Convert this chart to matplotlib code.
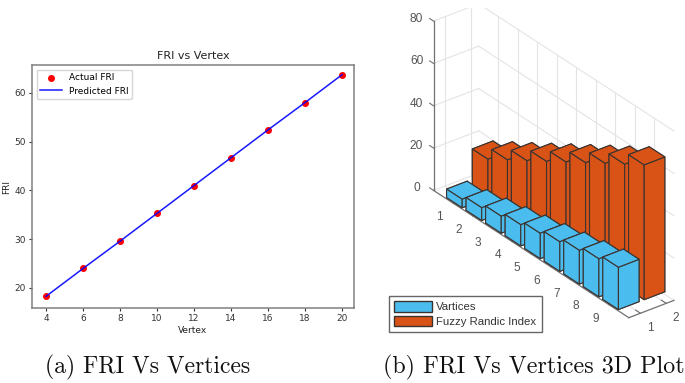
#!/usr/bin/env python3

import matplotlib
matplotlib.use('Agg')
import matplotlib.pyplot as plt
from matplotlib.patches import Patch
from mpl_toolkits.mplot3d import proj3d

W, H = 685, 383

vertex = [4, 6, 8, 10, 12, 14, 16, 18, 20]
actual_fri = [18.3, 24.0, 29.6, 35.3, 41.0, 46.7, 52.4, 58.0, 63.7]
predicted_fri = [18.3, 24.0, 29.6, 35.3, 41.0, 46.7, 52.4, 58.0, 63.7]
bar_index = [1, 2, 3, 4, 5, 6, 7, 8, 9]
z_ticks = [0, 20, 40, 60, 80]

BLUE = '#4abdee'
ORANGE = '#d95316'
EDGE = '#3b3330'
GRID = '#e4e4e4'
AXC = '#707070'

fig = plt.figure(figsize=(W / 100, H / 100), dpi=100)

# left panel
ax = fig.add_axes([32 / W, 1 - 308 / H, 322 / W, 243 / H])
ax.scatter(vertex, actual_fri, color='red', s=16, label='Actual FRI', zorder=2)
ax.plot(vertex, predicted_fri, color='blue', lw=1.1, alpha=0.9, label='Predicted FRI', zorder=3)
ax.set_xlim(3.24, 20.65)
ax.set_ylim(15.9, 65.7)
ax.set_xticks(vertex)
ax.tick_params(labelsize=6.5, length=2.5, width=0.8, pad=2, colors='#333333')
ax.set_xlabel('Vertex', fontsize=6.5, labelpad=2, color='#222222')
ax.set_ylabel('FRI', fontsize=6.5, labelpad=2, color='#222222')
ax.set_title('FRI vs Vertex', fontsize=8, pad=4, color='#222222')
for s in ax.spines.values():
    s.set_color('#808080')
    s.set_linewidth(1.1)
ax.legend(loc='upper left', fontsize=6.5, borderaxespad=0.5, handlelength=2.4)

# right panel
ax3 = fig.add_axes([392 / W, 26.5 / H, 315 / W, 1], projection='3d', proj_type='ortho',
                   computed_zorder=False)
xlo, xhi = 0, 10
ylo, yhi = 0.55, 2.3
ax3.set_xlim(xlo, xhi)
ax3.set_ylim(ylo, yhi)
ax3.set_zlim(0, 80)
ax3.view_init(elev=30, azim=-37.5)
ax3.set_box_aspect((320, 56.7, 195), zoom=1.171)
ax3.set_axis_off()
ax3.patch.set_alpha(0)

# back wall grid
for z in z_ticks:
    ax3.plot([xlo, xhi], [yhi, yhi], [z, z], color=GRID, lw=0.8, zorder=0)
    ax3.plot([xlo, xlo], [ylo, yhi], [z, z], color=GRID, lw=0.8, zorder=0)
for x in bar_index:
    ax3.plot([x, x], [yhi, yhi], [0, 80], color=GRID, lw=0.8, zorder=0)
    ax3.plot([x, x], [ylo, yhi], [0, 0], color=GRID, lw=0.8, zorder=0)
for y in [1, 2]:
    ax3.plot([xlo, xlo], [y, y], [0, 80], color=GRID, lw=0.8, zorder=0)
    ax3.plot([xlo, xhi], [y, y], [0, 0], color=GRID, lw=0.8, zorder=0)

# axis lines and ticks
ax3.plot([xlo, xhi], [ylo, ylo], [0, 0], color=AXC, lw=0.9, zorder=1)
ax3.plot([xhi, xhi], [ylo, yhi], [0, 0], color=AXC, lw=0.9, zorder=1)
ax3.plot([xlo, xlo], [ylo, ylo], [0, 80], color=AXC, lw=0.9, zorder=1)
for x in bar_index:
    ax3.plot([x, x], [ylo, ylo + 0.15], [0, 0], color=AXC, lw=0.8, zorder=1)
for y in [1, 2]:
    ax3.plot([xhi, xhi - 0.25], [y, y], [0, 0], color=AXC, lw=0.8, zorder=1)
for z in z_ticks:
    ax3.plot([xlo, xlo - 0.2], [ylo, ylo], [z, z], color=AXC, lw=0.8, zorder=1)

# bars, orange row behind the blue one
order = 10
for i in bar_index:
    ax3.bar3d(i - 0.4, 1.6, 0, 0.8, 0.8, actual_fri[i - 1], color=ORANGE, shade=False,
              edgecolor=EDGE, linewidth=0.8, zorder=order)
    order += 1
for i in bar_index:
    ax3.bar3d(i - 0.4, 0.6, 0, 0.8, 0.8, vertex[i - 1], color=BLUE, shade=False,
              edgecolor=EDGE, linewidth=0.8, zorder=order)
    order += 1


def tick_label(x, y, z, txt, dx, dy):
    xp, yp, _ = proj3d.proj_transform(x, y, z, ax3.get_proj())
    ax3.annotate(txt, (xp, yp), xytext=(dx, dy), textcoords='offset pixels', ha='center',
                 va='center', fontsize=8.6, color='#555555', family='Liberation Sans',
                 annotation_clip=False)


for z in z_ticks:
    tick_label(xlo, ylo, z, str(z), -17, 2)
for x in bar_index:
    tick_label(x, ylo, 0, str(x), -14, -14)
for y in [1, 2]:
    tick_label(xhi, y, 0, str(y), 10, -15)

handles = [Patch(facecolor=BLUE, edgecolor=EDGE, label='Vartices'),
           Patch(facecolor=ORANGE, edgecolor=EDGE, label='Fuzzy Randic Index')]
fig.legend(handles=handles, loc='lower left', bbox_to_anchor=(389 / W, 1 - 332 / H),
           borderaxespad=0, fancybox=False, framealpha=1, edgecolor='#666666',
           prop={'family': 'Liberation Sans', 'size': 8.2}, handlelength=3.3, handleheight=1.0,
           labelspacing=0.3, borderpad=0.45, handletextpad=0.4, labelcolor='#333333')

# captions
fig.text(148 / W, 1 - 367 / H, '(a) FRI Vs Vertices', fontsize=17, family='cmr10',
         ha='center', va='center', color='#111111')
fig.text(534 / W, 1 - 367 / H, '(b) FRI Vs Vertices 3D Plot', fontsize=17.3, family='cmr10',
         ha='center', va='center', color='#111111')

fig.savefig('out.png', dpi=100)
